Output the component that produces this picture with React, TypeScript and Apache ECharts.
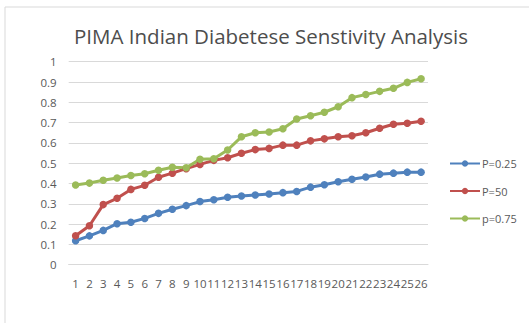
import React, { useEffect, useRef } from "react";
import * as echarts from "echarts";

const categories = Array.from({ length: 26 }, (_, i) => String(i + 1));

const p025 = [
  0.118, 0.142, 0.169, 0.202, 0.209, 0.228, 0.253, 0.273, 0.291, 0.311, 0.32, 0.332, 0.338,
  0.343, 0.348, 0.355, 0.361, 0.382, 0.394, 0.409, 0.421, 0.432, 0.446, 0.451, 0.456, 0.456,
];
const p50 = [
  0.143, 0.192, 0.296, 0.327, 0.371, 0.391, 0.431, 0.451, 0.473, 0.494, 0.514, 0.527, 0.549,
  0.567, 0.573, 0.589, 0.589, 0.61, 0.62, 0.63, 0.635, 0.65, 0.672, 0.692, 0.697, 0.707,
];
const p075 = [
  0.393, 0.402, 0.416, 0.427, 0.439, 0.448, 0.465, 0.48, 0.478, 0.519, 0.522, 0.565, 0.63,
  0.65, 0.654, 0.67, 0.718, 0.734, 0.751, 0.778, 0.823, 0.838, 0.854, 0.869, 0.898, 0.916,
];

const seriesNames = ["P=0.25", "P=50", "p=0.75"];
const colors = ["#4f81bd", "#c0504d", "#9bbb59"];
const FONT = "'Open Sans', 'Liberation Sans', sans-serif";

export default function App() {
  const ref = useRef<HTMLDivElement>(null);
  useEffect(() => {
    if (!ref.current) return;
    const chart = echarts.init(ref.current, null, { renderer: "svg" });
    const data = [p025, p50, p075];
    chart.setOption({
      animation: false,
      backgroundColor: "#ffffff",
      textStyle: { fontFamily: FONT },
      title: {
        text: "PIMA Indian Diabetese Senstivity Analysis",
        left: 266,
        textAlign: "center",
        top: 20,
        textStyle: { fontFamily: FONT, fontSize: 20.5, fontWeight: "normal", color: "#4d4d4d" },
      },
      graphic: [
        {
          type: "rect",
          shape: { x: 5, y: 7, width: 600, height: 400 },
          style: { fill: "none", stroke: "#d9d9d9", lineWidth: 1 },
          silent: true,
        },
      ],
      legend: {
        orient: "vertical",
        left: 449,
        top: 158,
        padding: 0,
        itemWidth: 30,
        itemHeight: 8,
        itemGap: 16.5,
        textStyle: { fontFamily: FONT, fontSize: 11, color: "#595959", padding: [0, 0, 0, -3] },
        data: seriesNames,
      },
      grid: { left: 68.7, right: 101, top: 61.7, bottom: 58.3 },
      xAxis: {
        type: "category",
        data: categories,
        boundaryGap: true,
        axisLine: { lineStyle: { color: "#d9d9d9" } },
        axisTick: { show: false },
        axisLabel: {
          interval: 0,
          hideOverlap: false,
          color: "#595959",
          fontSize: 11.5,
          fontFamily: FONT,
          margin: 13,
        },
      },
      yAxis: {
        type: "value",
        min: 0,
        max: 1,
        interval: 0.1,
        axisLine: { show: false },
        axisTick: { show: false },
        splitLine: { lineStyle: { color: "#d9d9d9" } },
        axisLabel: {
          color: "#595959",
          fontSize: 11.5,
          fontFamily: FONT,
          margin: 12,
          formatter: (v: number) => String(Math.round(v * 10) / 10),
        },
      },
      series: data.map((d, i) => ({
        name: seriesNames[i],
        type: "line",
        data: d,
        color: colors[i],
        symbol: "circle",
        symbolSize: 7.5,
        lineStyle: { width: 3, color: colors[i] },
        itemStyle: { color: colors[i] },
      })),
    });
    return () => chart.dispose();
  }, []);
  return <div ref={ref} style={{ width: 529, height: 323, position: "absolute", left: 0, top: 0 }} />;
}
